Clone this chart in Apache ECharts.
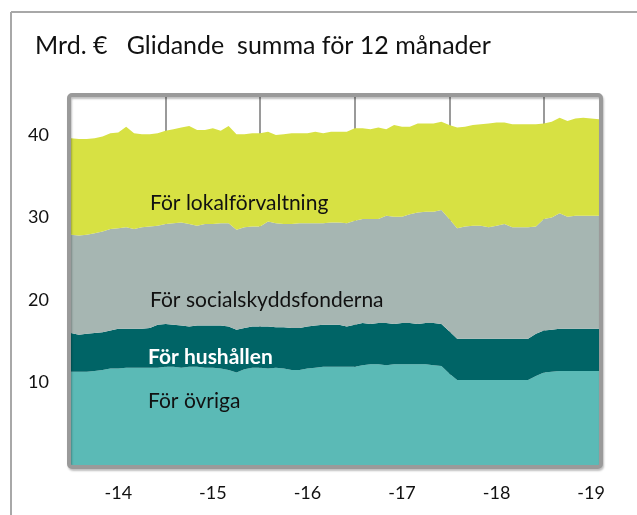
<!DOCTYPE html>
<html>
<head>
<meta charset="utf-8">
<script src="https://cdn.jsdelivr.net/npm/echarts@6/dist/echarts.min.js"></script>
<style>
  html, body { margin: 0; padding: 0; background: #fff; }
  #chart { width: 637px; height: 515px; }
</style>
</head>
<body>
<div id="chart"></div>
<script>
// månader jan 2014 - aug 2019
const years = [2014, 2015, 2016, 2017, 2018, 2019];
const lastMonth = 8;
const months = [];
years.forEach(function (y) {
  for (let m = 1; m <= 12; m++) {
    if (y === 2019 && m > lastMonth) break;
    months.push(y + '-' + (m < 10 ? '0' + m : m));
  }
});

// mrd. euro, glidande 12 mån summa
const ovriga = [
  11.3, 11.3, 11.3, 11.4, 11.5, 11.7, 11.7, 11.8, 11.8, 11.8, 11.8, 11.8,
  11.9, 11.9, 11.8, 11.9, 11.9, 11.8, 11.8, 11.7, 11.5, 11.2, 11.6, 11.8,
  11.8, 11.7, 11.8, 11.7, 11.5, 11.5, 11.7, 11.8, 11.9, 11.9, 11.9, 11.9,
  11.9, 12.1, 12.2, 12.2, 12.1, 12.2, 12.2, 12.2, 12.2, 12.2, 12.1, 12.0,
  11.1, 10.3, 10.3, 10.3, 10.3, 10.3, 10.3, 10.3, 10.3, 10.3, 10.3, 10.8,
  11.2, 11.3, 11.4, 11.4, 11.4, 11.4, 11.4, 11.4
];
const hushallen = [
  4.7, 4.5, 4.6, 4.6, 4.6, 4.6, 4.8, 4.7, 4.7, 4.7, 4.8, 5.2,
  5.2, 5.1, 5.1, 4.9, 5.0, 5.1, 5.1, 5.2, 5.3, 5.2, 5.0, 5.0,
  5.0, 5.1, 4.9, 5.0, 5.1, 5.1, 5.1, 5.1, 5.1, 5.1, 5.1, 4.9,
  5.1, 5.1, 4.9, 5.0, 5.1, 4.9, 5.0, 5.0, 4.9, 5.0, 5.1, 5.1,
  5.1, 5.0, 5.0, 5.0, 5.0, 5.0, 5.0, 5.0, 5.0, 5.0, 5.0, 5.1,
  5.1, 5.1, 5.1, 5.1, 5.1, 5.1, 5.1, 5.1
];
const socialskydd = [
  11.9, 12.0, 12.0, 12.1, 12.2, 12.3, 12.2, 12.3, 12.1, 12.3, 12.3, 12.0,
  12.1, 12.3, 12.5, 12.4, 12.1, 12.3, 12.3, 12.4, 12.5, 12.1, 12.2, 12.1,
  12.1, 12.7, 12.6, 12.5, 12.6, 12.7, 12.5, 12.4, 12.3, 12.4, 12.4, 12.5,
  12.6, 12.6, 12.7, 12.6, 13.0, 13.0, 12.9, 13.2, 13.5, 13.5, 13.5, 13.8,
  13.6, 13.4, 13.6, 13.7, 13.7, 13.5, 13.7, 13.9, 13.5, 13.5, 13.5, 13.0,
  13.5, 13.6, 14.0, 13.6, 13.7, 13.7, 13.7, 13.7
];
const lokal = [
  11.7, 11.7, 11.6, 11.5, 11.5, 11.6, 11.6, 12.2, 11.6, 11.3, 11.2, 11.2,
  11.3, 11.4, 11.5, 11.9, 11.6, 11.4, 11.6, 11.2, 11.8, 11.6, 11.3, 11.3,
  11.3, 10.9, 10.7, 10.9, 11.0, 10.9, 10.9, 11.1, 10.9, 11.0, 11.0, 11.1,
  11.2, 11.0, 10.9, 11.1, 10.5, 11.1, 10.9, 10.6, 10.8, 10.7, 10.7, 10.7,
  11.4, 12.2, 12.1, 12.2, 12.3, 12.6, 12.5, 12.3, 12.5, 12.5, 12.5, 12.4,
  11.6, 11.6, 11.6, 11.6, 11.8, 11.9, 11.8, 11.7
];

const FONT = 'Lato';
const gridBox = {left: 71, top: 97, right: 38, bottom: 50};

const chart = echarts.init(document.getElementById('chart'), null, {renderer: 'canvas'});

function area(name, data, color) {
  return {
    name: name,
    type: 'line',
    stack: 'tot',
    data: data,
    symbol: 'none',
    silent: true,
    lineStyle: {width: 0},
    areaStyle: {color: color, opacity: 1},
    itemStyle: {color: color}
  };
}

const option = {
  backgroundColor: '#fff',
  animation: false,
  textStyle: {fontFamily: FONT},
  grid: gridBox,
  xAxis: {
    type: 'category',
    data: months,
    boundaryGap: false,
    axisLine: {show: false},
    axisTick: {show: false},
    splitLine: {
      show: true,
      interval: function (i, v) { return v.slice(5) === '01' && i > 0; },
      lineStyle: {color: '#9a9a9a', width: 2}
    },
    axisLabel: {
      interval: function (i, v) { return v.slice(5) === '07'; },
      formatter: function (v) { return '-' + v.slice(2, 4); },
      fontSize: 18,
      color: '#111',
      margin: 19,
      fontFamily: FONT
    }
  },
  yAxis: {
    type: 'value',
    min: 0,
    max: 44.6,
    interval: 10,
    axisLine: {show: false},
    axisTick: {show: false},
    splitLine: {show: false},
    axisLabel: {
      showMinLabel: false,
      showMaxLabel: false,
      fontSize: 18,
      color: '#111',
      margin: 22,
      fontFamily: FONT
    }
  },
  series: [
    area('För övriga', ovriga, '#5bbab6'),
    area('För hushållen', hushallen, '#006466'),
    area('För socialskyddsfonderna', socialskydd, '#a6b6b2'),
    area('För lokalförvaltning', lokal, '#d7e143')
  ],
  graphic: [
    // yttre ram
    {type: 'line', shape: {x1: 11, y1: 12, x2: 637, y2: 12}, style: {stroke: '#a8a8a8', lineWidth: 2}, z: 50},
    {type: 'line', shape: {x1: 11, y1: 12, x2: 11, y2: 515}, style: {stroke: '#a8a8a8', lineWidth: 2}, z: 50},
    // ram runt diagrammet
    {
      type: 'rect',
      shape: {x: gridBox.left - 2, y: gridBox.top - 2, width: 637 - gridBox.left - gridBox.right + 4, height: 515 - gridBox.top - gridBox.bottom + 4, r: 3},
      style: {fill: null, stroke: '#9a9a9a', lineWidth: 4, shadowColor: 'rgba(0,0,0,0.25)', shadowOffsetX: 1, shadowOffsetY: 2, shadowBlur: 2},
      z: 60
    },
    {type: 'text', left: 35, top: 33, style: {text: 'Mrd. €   Glidande  summa för 12 månader', font: '25px ' + FONT, fill: '#111'}, z: 60},
    {type: 'text', left: 150, top: 193, style: {text: 'För lokalförvaltning', font: '21px ' + FONT, fill: '#111'}, z: 60},
    {type: 'text', left: 150, top: 290, style: {text: 'För socialskyddsfonderna', font: '21px ' + FONT, fill: '#111'}, z: 60},
    {type: 'text', left: 148, top: 347, style: {text: 'För hushållen', font: 'bold 21px ' + FONT, fill: '#fff'}, z: 60},
    {type: 'text', left: 148, top: 391, style: {text: 'För övriga', font: '21px ' + FONT, fill: '#111'}, z: 60}
  ]
};

chart.setOption(option);
</script>
</body>
</html>
